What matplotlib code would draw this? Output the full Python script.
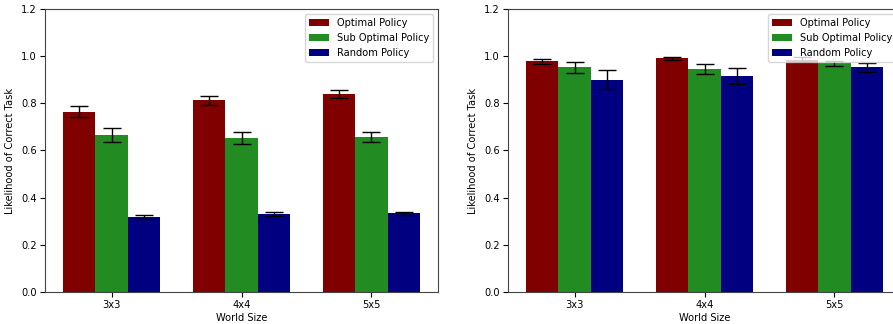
import numpy as np
import matplotlib
matplotlib.use("Agg")
import matplotlib.pyplot as plt

sizes = ["3x3", "4x4", "5x5"]
labels = ["Optimal Policy", "Sub Optimal Policy", "Random Policy"]
colors = ["#800000", "#228B22", "#000080"]

# left panel
left_means = [[0.764, 0.814, 0.841],
              [0.666, 0.654, 0.657],
              [0.318, 0.330, 0.333]]
left_errs = [[0.024, 0.019, 0.017],
             [0.028, 0.025, 0.023],
             [0.010, 0.009, 0.005]]

# right panel
right_means = [[0.978, 0.991, 0.985],
               [0.952, 0.945, 0.969],
               [0.901, 0.916, 0.952]]
right_errs = [[0.012, 0.006, 0.010],
              [0.023, 0.021, 0.011],
              [0.039, 0.032, 0.020]]

fs = 7.1
fig = plt.figure(figsize=(8.93, 3.24), dpi=100)
W, H = 893, 324
ax1 = fig.add_axes([45 / W, 32 / H, 393 / W, 283 / H])
ax2 = fig.add_axes([508 / W, 32 / H, 393 / W, 283 / H])  # cut off at the right, as in the source

x = np.arange(len(sizes))
width = 0.25
for ax, means, errs in [(ax1, left_means, left_errs), (ax2, right_means, right_errs)]:
    for i in range(3):
        ax.bar(x + (i - 1) * width, means[i], width, yerr=errs[i], color=colors[i],
               label=labels[i], capsize=6.5, error_kw={"elinewidth": 1, "capthick": 1})
    ax.set_ylim(0, 1.2)
    ax.set_xticks(x)
    ax.set_xticklabels(sizes, fontsize=fs)
    ax.tick_params(axis="both", labelsize=fs, pad=2.5)
    for s in ax.spines.values():
        s.set_color("#444444")
    ax.set_xlabel("World Size", fontsize=fs, labelpad=2)
    ax.set_ylabel("Likelihood of Correct Task", fontsize=fs)
    ax.legend(loc="upper right", fontsize=fs)

fig.savefig("out.png", dpi=100)
